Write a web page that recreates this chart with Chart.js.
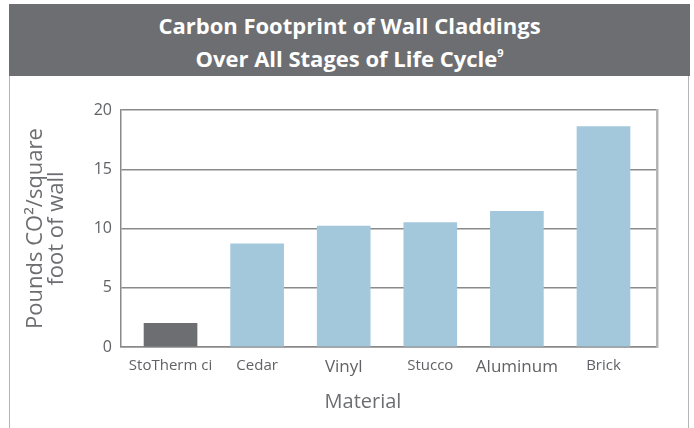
<!DOCTYPE html>
<html><head><meta charset="utf-8">
<script src="https://cdn.jsdelivr.net/npm/chart.js@4/dist/chart.umd.min.js"></script>
<style>
html,body{margin:0;padding:0;background:#fff;width:694px;height:428px;overflow:hidden}
#card{position:absolute;left:9px;top:4px;width:678px;height:440px;border-left:1.5px solid #b4b4b4;border-right:1.5px solid #b4b4b4;border-top:1px solid #b4b4b4}
#hdr{position:absolute;left:9px;top:4px;width:681px;height:72px;background:#6d6e71;color:#fff;font-family:'Open Sans';font-weight:700;font-size:22px;line-height:33px;text-align:center;padding-top:5px;box-sizing:border-box}
#hdr sup{font-size:11px;line-height:0;vertical-align:10px}
canvas{position:absolute;left:0;top:0}
</style></head>
<body>
<div id="card"></div>
<div id="hdr">Carbon Footprint of Wall Claddings<br>Over All Stages of Life Cycle<sup>9</sup></div>
<canvas id="c" width="694" height="428"></canvas>
<script>
const categories = ['StoTherm ci', 'Cedar', 'Vinyl', 'Stucco', 'Aluminum', 'Brick'];
const values = [2.0, 8.7, 10.2, 10.5, 11.45, 18.6];
const yTicks = [0, 5, 10, 15, 20];
const yTitle = ['Pounds CO²/square', 'foot of wall'];
const xTitle = 'Material';

const xTitlePlugin = {
  id: 'xTitle',
  afterDraw(chart) {
    const ctx = chart.ctx;
    ctx.save();
    ctx.font = '20px "Open Sans"';
    ctx.fillStyle = '#6d6e71';
    ctx.textAlign = 'center';
    ctx.textBaseline = 'alphabetic';
    ctx.fillText(xTitle, chart.chartArea.left + 242, 408);
    ctx.restore();
  }
};

new Chart(document.getElementById('c'), {
  type: 'bar',
  data: {
    datasets: [{
      data: categories.map((c, i) => ({ x: i, y: values[i] })),
      backgroundColor: categories.map((c, i) => i === 0 ? '#6d6e71' : '#a3c8dc'),
      barThickness: 53,
      borderWidth: 0
    }]
  },
  options: {
    responsive: false,
    animation: false,
    layout: { padding: { left: 10, right: 37, top: 110, bottom: 0 } },
    plugins: { legend: { display: false }, tooltip: { enabled: false } },
    scales: {
      x: {
        type: 'linear', min: -0.572, max: 5.618, offset: false,
        grid: { display: false, drawTicks: false, offset: false },
        border: { display: true, color: '#8a8a8a', width: 1.5 },
        ticks: {
          stepSize: 1, includeBounds: false, autoSkip: false, maxRotation: 0,
          padding: 10, color: '#616265',
          callback: (v) => categories[v] !== undefined ? categories[v] : '',
          font: (c) => ({ family: 'Open Sans', size: (c.index === 2 || c.index === 4) ? 17 : 15 })
        },
        afterFit: (s) => { s.height = 81; }
      },
      y: {
        min: 0, max: 20,
        afterBuildTicks: (s) => { s.ticks = yTicks.map(v => ({ value: v })); },
        ticks: { padding: 9, color: '#616265', font: { family: 'Open Sans', size: 16 } },
        grid: { color: '#8a8a8a', lineWidth: 1.5, drawTicks: false },
        border: { color: '#8a8a8a', width: 1.5 },
        title: {
          display: true, text: yTitle, color: '#6d6e71',
          font: { family: 'Open Sans', size: 22, lineHeight: 0.96 },
          padding: { top: 15, bottom: 0 }
        },
        afterFit: (s) => { s.width = 111; }
      },
      y2: {
        position: 'right', min: 0, max: 20,
        ticks: { display: false },
        grid: { display: false, drawTicks: false },
        border: { color: '#b5b5b5', width: 2.5 },
        afterFit: (s) => { s.width = 0; }
      }
    }
  },
  plugins: [xTitlePlugin]
});
</script>
</body></html>
